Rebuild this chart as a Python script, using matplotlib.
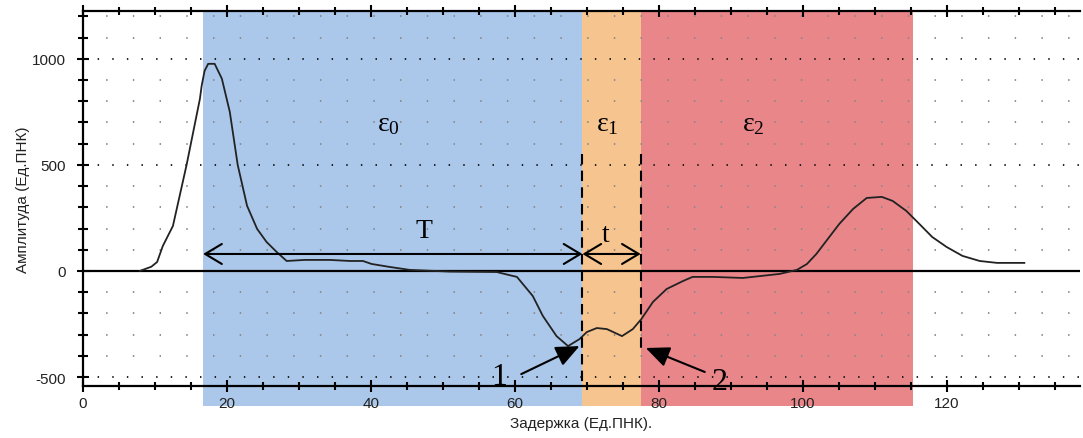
import numpy as np
import matplotlib.pyplot as plt
from matplotlib.patches import Rectangle
from matplotlib.ticker import MultipleLocator

# upright serif for the epsilon labels
plt.rcParams['mathtext.fontset'] = 'custom'
plt.rcParams['mathtext.rm'] = 'Liberation Serif'
plt.rcParams['mathtext.it'] = 'Liberation Serif'
plt.rcParams['mathtext.bf'] = 'Liberation Serif'

# signal (delay, amplitude)
delay = [7.9, 9.5, 10.3, 11.1, 12.5, 14.4, 16.25, 16.5, 16.9, 17.4, 18.3, 19.3, 20.4, 21.5, 22.8,
         24.2, 25.5, 26.9, 28.3, 30.8, 34.3, 37.1, 38.9, 40.1, 42.6, 45.4, 51.0, 57.5, 59.3,
         60.3, 62.5, 63.9, 65.8, 67.4, 69.0, 70.0, 71.4, 72.8, 74.9, 76.4, 77.6, 79.2, 81.1,
         83.4, 84.7, 87.5, 91.7, 96.8, 99.2, 100.6, 101.9, 103.7, 105.1, 107.0, 108.9, 111.0,
         112.5, 114.4, 116.2, 118.0, 120.0, 122.2, 124.6, 127.0, 130.8]
amplitude = [0, 20, 42, 118, 212, 500, 811, 874, 943, 976, 976, 906, 750, 500, 307,
             198, 137, 90, 47, 52, 52, 47, 47, 33, 19, 5, -3, -5, -20,
             -28, -118, -212, -307, -354, -321, -288, -269, -274, -307, -274, -226, -146, -85,
             -47, -28, -28, -33, -14, 5, 33, 80, 160, 222, 292, 344, 349,
             330, 283, 222, 160, 113, 71, 47, 38, 38]

# zone borders
zones = [16.7, 69.4, 77.5, 115.3]
zone_colors = ['#abc7ea', '#f6c48e', '#e9868a']
zone_labels = [r'$\varepsilon_0$', r'$\varepsilon_1$', r'$\varepsilon_2$']
zone_label_x = [42.4, 72.9, 93.1]

fig = plt.figure(figsize=(10.83, 4.39), dpi=100)
ax = fig.add_axes([0.0766, 0.1185, 0.9204, 0.8542])
ax.set_xlim(0, 138.5)
ax.set_ylim(-542, 1225)

for i in range(3):
    r = Rectangle((zones[i], -0.053), zones[i + 1] - zones[i], 1.053,
                  transform=ax.get_xaxis_transform(), facecolor=zone_colors[i],
                  edgecolor='none', clip_on=False, zorder=0)
    ax.add_patch(r)

# dot grid
for yy in range(-500, 1201, 100):
    if yy == 0:
        continue
    if yy % 500 == 0:
        ax.axhline(yy, color='#111111', lw=1.3, ls=(0, (0.8, 7.3)), zorder=1)
    else:
        ax.axhline(yy, color='#888888', lw=1.3, ls=(2, (0.8, 14.0)), zorder=1)

ax.axhline(0, color='black', lw=1.6, zorder=2)
ax.plot(delay, amplitude, color='#222222', lw=1.3, zorder=3)

# dashed borders
ax.plot([zones[1], zones[1]], [552, -542], color='black', lw=1.5, ls=(0, (5, 3)), zorder=4)
ax.plot([zones[2], zones[2]], [552, -368], color='black', lw=1.5, ls=(0, (5, 3)), zorder=4)

# period arrows
ax.annotate('', xy=(zones[0], 80), xytext=(zones[1], 80),
            arrowprops=dict(arrowstyle='<->,head_length=0.6,head_width=0.36',
                            mutation_scale=20, color='black', lw=1.5, shrinkA=0, shrinkB=0))
ax.annotate('', xy=(zones[1], 80), xytext=(zones[2], 80),
            arrowprops=dict(arrowstyle='<->,head_length=0.6,head_width=0.36',
                            mutation_scale=20, color='black', lw=1.5, shrinkA=0, shrinkB=0))
ax.text(47.4, 190, 'T', fontsize=20, family='Liberation Serif', ha='center', va='center')
ax.text(72.6, 172, 't', fontsize=20, family='Liberation Serif', ha='center', va='center')

for i in range(3):
    ax.text(zone_label_x[i], 703, zone_labels[i], fontsize=20, ha='center', va='center')

# pointers 1 and 2
ax.annotate('', xy=(69.0, -354), xytext=(60.9, -486),
            arrowprops=dict(arrowstyle='-|>,head_length=0.8,head_width=0.35',
                            mutation_scale=18, color='black', lw=1.5, shrinkA=0, shrinkB=0))
ax.annotate('', xy=(78.2, -363), xytext=(86.4, -476),
            arrowprops=dict(arrowstyle='-|>,head_length=0.8,head_width=0.35',
                            mutation_scale=18, color='black', lw=1.5, shrinkA=0, shrinkB=0))
ax.text(57.9, -495, '1', fontsize=23, family='Liberation Serif', ha='center', va='center')
ax.text(88.5, -519, '2', fontsize=23, family='Liberation Serif', ha='center', va='center')

# axes look
ax.spines['right'].set_visible(False)
for s in ['left', 'bottom', 'top']:
    ax.spines[s].set_linewidth(1.6)
ax.xaxis.set_major_locator(MultipleLocator(20))
ax.xaxis.set_minor_locator(MultipleLocator(5))
ax.yaxis.set_major_locator(MultipleLocator(500))
ax.yaxis.set_minor_locator(MultipleLocator(100))
ax.tick_params(axis='x', which='both', direction='inout', top=True, width=1.5)
ax.tick_params(axis='x', which='major', length=9, pad=3)
ax.tick_params(axis='x', which='minor', length=6)
ax.tick_params(axis='y', which='both', direction='inout', width=1.5)
ax.tick_params(axis='y', which='major', length=8, pad=8)
ax.tick_params(axis='y', which='minor', length=7)
ax.tick_params(labelsize=11, labelcolor='#222222')
ax.set_yticks([-500, 0, 500, 1000])
ax.set_yticklabels(['-500', '0', '500', '1000'])
ax.set_xticks([0, 20, 40, 60, 80, 100, 120])
for lab in ax.get_xticklabels() + ax.get_yticklabels():
    lab.set_family('Liberation Sans')

ax.set_xlabel('Задержка (Ед.ПНК).', fontsize=11, color='#222222', family='Liberation Sans', labelpad=4)
ax.set_ylabel('Амплитуда (Ед.ПНК)', fontsize=11, color='#222222', family='Liberation Sans', labelpad=2)

plt.savefig('out.png', dpi=100)
